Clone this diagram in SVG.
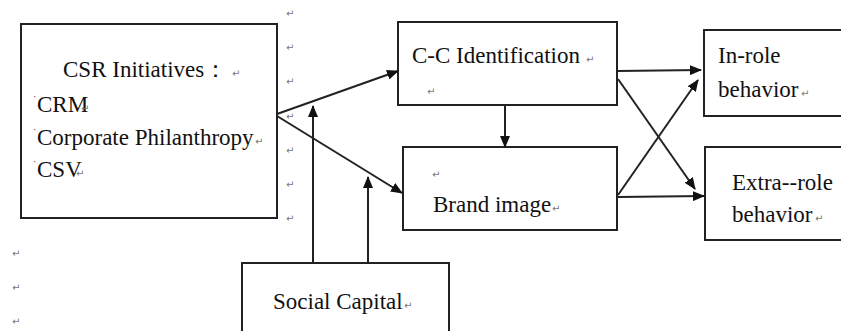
<svg xmlns="http://www.w3.org/2000/svg" width="841" height="331" viewBox="0 0 841 331">
<defs>
<marker id="ah" markerWidth="12" markerHeight="10" refX="11" refY="5" orient="auto" markerUnits="userSpaceOnUse">
<path d="M0,0 L12,5 L0,10 Z" fill="#111"/>
</marker>
</defs>
<rect width="841" height="331" fill="#fff"/>
<g id="csr">
<rect fill="#fff" stroke="#222" stroke-width="2" x="21" y="24" width="256" height="194"/>
<text font-family="Times New Roman, Liberation Serif, serif" font-size="23" fill="#111" x="63" y="77">CSR Initiatives：</text>
<text font-family="Times New Roman, Liberation Serif, serif" font-size="10" fill="#111" x="33" y="103">˙</text>
<text font-family="Times New Roman, Liberation Serif, serif" font-size="23" fill="#111" x="37" y="112">CRM</text>
<text font-family="Times New Roman, Liberation Serif, serif" font-size="10" fill="#111" x="33" y="136">˙</text>
<text font-family="Times New Roman, Liberation Serif, serif" font-size="23" fill="#111" x="37" y="145">Corporate Philanthropy</text>
<text font-family="Times New Roman, Liberation Serif, serif" font-size="10" fill="#111" x="33" y="168">˙</text>
<text font-family="Times New Roman, Liberation Serif, serif" font-size="23" fill="#111" x="37" y="177">CSV</text>
</g>
<g id="cc">
<rect fill="#fff" stroke="#222" stroke-width="2" x="398" y="22" width="219" height="83"/>
<text font-family="Times New Roman, Liberation Serif, serif" font-size="23" fill="#111" x="412" y="63">C-C Identification</text>
</g>
<g id="brand">
<rect fill="#fff" stroke="#222" stroke-width="2" x="403" y="147" width="214" height="83"/>
<text font-family="Times New Roman, Liberation Serif, serif" font-size="23" fill="#111" x="433" y="212">Brand image</text>
</g>
<g id="inrole">
<rect fill="#fff" stroke="#222" stroke-width="2" x="704" y="30" width="140" height="86"/>
<text font-family="Times New Roman, Liberation Serif, serif" font-size="23" fill="#111" x="718" y="63">In-role</text>
<text font-family="Times New Roman, Liberation Serif, serif" font-size="23" fill="#111" x="718" y="97">behavior</text>
</g>
<g id="extrarole">
<rect fill="#fff" stroke="#222" stroke-width="2" x="705" y="147" width="140" height="93"/>
<text font-family="Times New Roman, Liberation Serif, serif" font-size="23" fill="#111" x="732" y="190">Extra--role</text>
<text font-family="Times New Roman, Liberation Serif, serif" font-size="23" fill="#111" x="732" y="222">behavior</text>
</g>
<g id="social">
<rect fill="#fff" stroke="#222" stroke-width="2" x="242" y="263" width="207" height="80"/>
<text font-family="Times New Roman, Liberation Serif, serif" font-size="23" fill="#111" x="273" y="309">Social Capital</text>
</g>
<g id="marks" font-family="DejaVu Sans, sans-serif" font-size="10" fill="#777">
<text x="286" y="17">↵</text>
<text x="286" y="51">↵</text>
<text x="286" y="85">↵</text>
<text x="286" y="120">↵</text>
<text x="286" y="154">↵</text>
<text x="286" y="188">↵</text>
<text x="286" y="222">↵</text>
<text x="12" y="257">↵</text>
<text x="12" y="291">↵</text>
<text x="12" y="325">↵</text>
<text x="232" y="77">↵</text>
<text x="81" y="112">↵</text>
<text x="255" y="145">↵</text>
<text x="76" y="177">↵</text>
<text x="586" y="63">↵</text>
<text x="427" y="95">↵</text>
<text x="432" y="178">↵</text>
<text x="552" y="212">↵</text>
<text x="801" y="97">↵</text>
<text x="815" y="222">↵</text>
<text x="404" y="309">↵</text>
</g>
<g id="connectors" stroke="#222" stroke-width="2" fill="none" marker-end="url(#ah)">
<line x1="277" y1="114" x2="398" y2="71"/>
<line x1="277" y1="116" x2="402" y2="193"/>
<line x1="313" y1="263" x2="313" y2="106"/>
<line x1="368" y1="263" x2="368" y2="177"/>
<line x1="505" y1="105" x2="505" y2="147"/>
<line x1="617" y1="71" x2="701" y2="70"/>
<line x1="618" y1="79" x2="695" y2="189"/>
<line x1="618" y1="195" x2="698" y2="80"/>
<line x1="618" y1="197" x2="704" y2="196"/>
</g>
</svg>
